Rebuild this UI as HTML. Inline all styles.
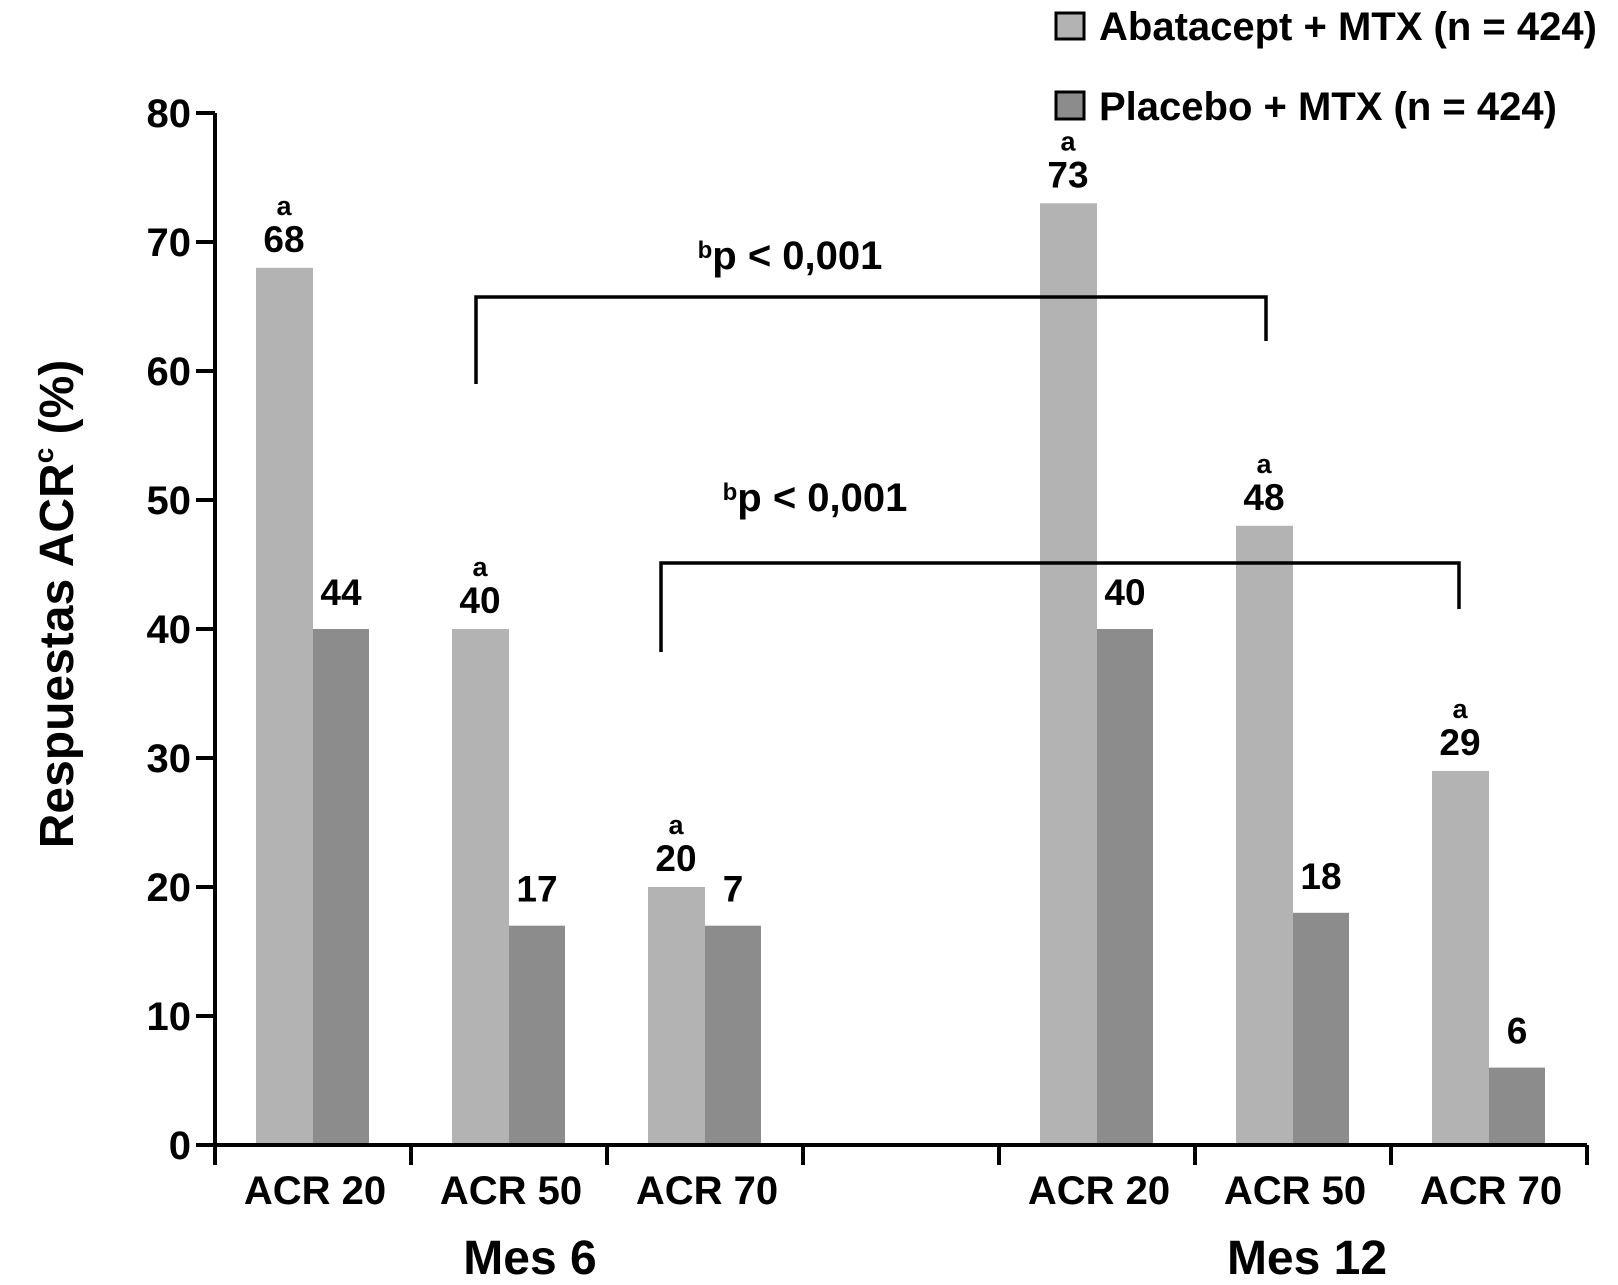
<!DOCTYPE html>
<html><head><meta charset="utf-8"><style>
body{margin:0;background:#fff;}
svg{display:block;font-family:"Liberation Sans",Arial,sans-serif;font-weight:bold;}
</style></head><body>
<svg id="c" width="1618" height="1285"></svg>
<script>
const categories=["ACR 20","ACR 50","ACR 70","ACR 20","ACR 50","ACR 70"];
const slots=[0,1,2,4,5,6];
const abatacept=[68,40,20,73,48,29];
const placebo=[40,17,17,40,18,6];
const abataceptLabels=["68","40","20","73","48","29"];
const placeboLabels=["44","17","7","40","18","6"];
const yTicks=[0,10,20,30,40,50,60,70,80];
const NS="http://www.w3.org/2000/svg";
const svg=document.getElementById('c');
const X0=215,SW=196,Y0=1145,PU=12.9;
const y=v=>Y0-v*PU;
const sx=i=>X0+slots[i]*SW;
function el(t,a,txt){const e=document.createElementNS(NS,t);for(const k in a)e.setAttribute(k,a[k]);if(txt!==undefined)e.textContent=txt;svg.appendChild(e);return e;}
abatacept.forEach((v,i)=>{
 const b=el('rect',{x:sx(i)+41,y:y(v),width:57,height:v*PU,fill:'#b3b3b3'});
 
 
 const t=el('text',{x:sx(i)+69,y:y(v)-16,'font-size':37,'text-anchor':'middle'},abataceptLabels[i]);
 
 
 const a=el('text',{x:sx(i)+69,y:y(v)-53,'font-size':27,'text-anchor':'middle'},'a');
 
 
});
placebo.forEach((v,i)=>{
 const b=el('rect',{x:sx(i)+98,y:y(v),width:56,height:v*PU,fill:'#8c8c8c'});
 
 
 const t=el('text',{x:sx(i)+126,y:y(v)-24,'font-size':37,'text-anchor':'middle'},placeboLabels[i]);
 
 
});
el('line',{x1:X0,y1:y(80),x2:X0,y2:Y0+20,stroke:'#000','stroke-width':4});
el('line',{x1:X0-2,y1:Y0,x2:X0+7*SW,y2:Y0,stroke:'#000','stroke-width':4});
yTicks.forEach(v=>{
 el('line',{x1:X0-19,y1:y(v),x2:X0,y2:y(v),stroke:'#000','stroke-width':4});
 const t=el('text',{x:191,y:y(v)+14,'font-size':40,'text-anchor':'end'},String(v));
 
 
});
for(let k=0;k<=7;k++)el('line',{x1:X0+k*SW,y1:Y0,x2:X0+k*SW,y2:Y0+20,stroke:'#000','stroke-width':4});
categories.forEach((c,i)=>{
 const t=el('text',{x:sx(i)+100,y:1204,'font-size':40,'text-anchor':'middle'},c);
 
 
});
</script>
<svg width="1618" height="1285" style="position:absolute;left:0;top:0" font-family="Liberation Sans, Arial, sans-serif" font-weight="bold">
<text x="530" y="1274" font-size="48" text-anchor="middle">Mes 6</text>
<text x="1307" y="1274" font-size="48" text-anchor="middle">Mes 12</text>
<text transform="translate(73,604) rotate(-90)" font-size="48" text-anchor="middle">Respuestas ACR<tspan font-size="28" dy="-20">c</tspan><tspan dy="20"> (%)</tspan></text>
<g>
<rect x="1056" y="13" width="28" height="26" fill="#b3b3b3" stroke="#000" stroke-width="3"/>
<text x="1099" y="40" font-size="40">Abatacept + MTX (n = 424)</text>
<rect x="1056" y="92" width="28" height="27" fill="#8c8c8c" stroke="#000" stroke-width="3"/>
<text x="1099" y="120" font-size="40">Placebo + MTX (n = 424)</text>
</g>
<g fill="none" stroke="#000" stroke-width="3.5">
<polyline points="476,384 476,297 1266,297 1266,341"/>
<polyline points="661,652 661,563 1459,563 1459,609"/>
</g>
<text x="790" y="269" font-size="40" text-anchor="middle"><tspan font-size="24" dy="-11">b</tspan><tspan dy="11">p &lt; 0,001</tspan></text>
<text x="815" y="511" font-size="40" text-anchor="middle"><tspan font-size="24" dy="-11">b</tspan><tspan dy="11">p &lt; 0,001</tspan></text>
</svg>
</body></html>
